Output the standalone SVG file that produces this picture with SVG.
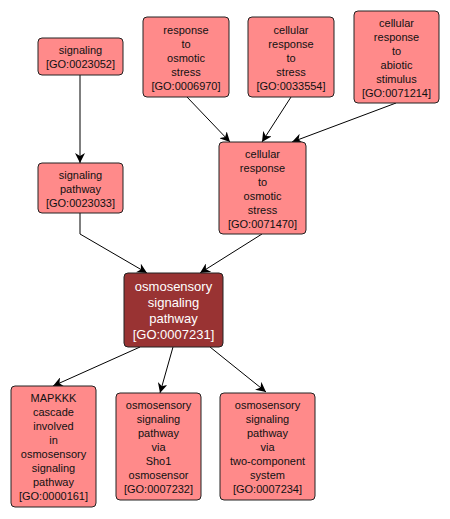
<svg xmlns="http://www.w3.org/2000/svg" width="450" height="519" viewBox="0 0 450 519">
<defs>
<style>
.n rect{fill:#ff8a8a;stroke:#222;stroke-width:1}
.n text{font-family:"Liberation Sans",Arial,sans-serif;font-size:11px;fill:#111;text-anchor:middle}
#main rect{fill:#993333;stroke:#222}
#main text{fill:#fff;font-size:13px}
.e path{fill:none;stroke:#000;stroke-width:1;marker-end:url(#ah)}
</style>
<marker id="ah" markerWidth="12" markerHeight="10" refX="10" refY="5" orient="auto" markerUnits="userSpaceOnUse">
<path d="M0,0 L10,5 L0,10 L3,5 Z" fill="#000"/>
</marker>
</defs>
<rect width="450" height="519" fill="#fff"/>
<g class="e">
<path d="M80,75 L80,163"/>
<path d="M187,97 L230,142"/>
<path d="M291,97 L262,142"/>
<path d="M396,103 L292,142"/>
<path d="M80,213 L80,234 L147,273"/>
<path d="M262,234 L200,273"/>
<path d="M140,347 L53,386"/>
<path d="M173,347 L160,393"/>
<path d="M210,347 L266,392"/>
</g>
<g id="n1" class="n"><rect x="38" y="38" width="85" height="37" rx="4"/>
<text x="80.5" y="54">signaling</text><text x="80.5" y="68">[GO:0023052]</text></g>
<g id="n2" class="n"><rect x="38" y="163" width="85" height="50" rx="4"/>
<text x="80.5" y="178.5">signaling</text><text x="80.5" y="192.5">pathway</text><text x="80.5" y="206.5">[GO:0023033]</text></g>
<g id="n3" class="n"><rect x="143" y="17" width="86" height="80" rx="4"/>
<text x="186" y="33.5">response</text><text x="186" y="47.5">to</text><text x="186" y="61.5">osmotic</text><text x="186" y="75.5">stress</text><text x="186" y="89.5">[GO:0006970]</text></g>
<g id="n4" class="n"><rect x="248" y="17" width="86" height="80" rx="4"/>
<text x="291" y="33.5">cellular</text><text x="291" y="47.5">response</text><text x="291" y="61.5">to</text><text x="291" y="75.5">stress</text><text x="291" y="89.5">[GO:0033554]</text></g>
<g id="n5" class="n"><rect x="354" y="11" width="85" height="92" rx="4"/>
<text x="396.5" y="26.5">cellular</text><text x="396.5" y="40.5">response</text><text x="396.5" y="54.5">to</text><text x="396.5" y="68.5">abiotic</text><text x="396.5" y="82.5">stimulus</text><text x="396.5" y="96.5">[GO:0071214]</text></g>
<g id="n6" class="n"><rect x="219" y="142" width="87" height="92" rx="4"/>
<text x="262.5" y="157.5">cellular</text><text x="262.5" y="171.5">response</text><text x="262.5" y="185.5">to</text><text x="262.5" y="199.5">osmotic</text><text x="262.5" y="213.5">stress</text><text x="262.5" y="227.5">[GO:0071470]</text></g>
<g id="main" class="n"><rect x="124" y="273" width="99" height="74" rx="4"/>
<text x="173.5" y="291">osmosensory</text><text x="173.5" y="307">signaling</text><text x="173.5" y="323">pathway</text><text x="173.5" y="339">[GO:0007231]</text></g>
<g id="n8" class="n"><rect x="11" y="386" width="85" height="121" rx="4"/>
<text x="53.5" y="402">MAPKKK</text><text x="53.5" y="416">cascade</text><text x="53.5" y="430">involved</text><text x="53.5" y="444">in</text><text x="53.5" y="458">osmosensory</text><text x="53.5" y="472">signaling</text><text x="53.5" y="486">pathway</text><text x="53.5" y="500">[GO:0000161]</text></g>
<g id="n9" class="n"><rect x="116" y="393" width="85" height="107" rx="4"/>
<text x="158.5" y="409">osmosensory</text><text x="158.5" y="423">signaling</text><text x="158.5" y="437">pathway</text><text x="158.5" y="451">via</text><text x="158.5" y="465">Sho1</text><text x="158.5" y="479">osmosensor</text><text x="158.5" y="493">[GO:0007232]</text></g>
<g id="n10" class="n"><rect x="220" y="393" width="95" height="107" rx="4"/>
<text x="267.5" y="409">osmosensory</text><text x="267.5" y="423">signaling</text><text x="267.5" y="437">pathway</text><text x="267.5" y="451">via</text><text x="267.5" y="465">two-component</text><text x="267.5" y="479">system</text><text x="267.5" y="493">[GO:0007234]</text></g>
</svg>
